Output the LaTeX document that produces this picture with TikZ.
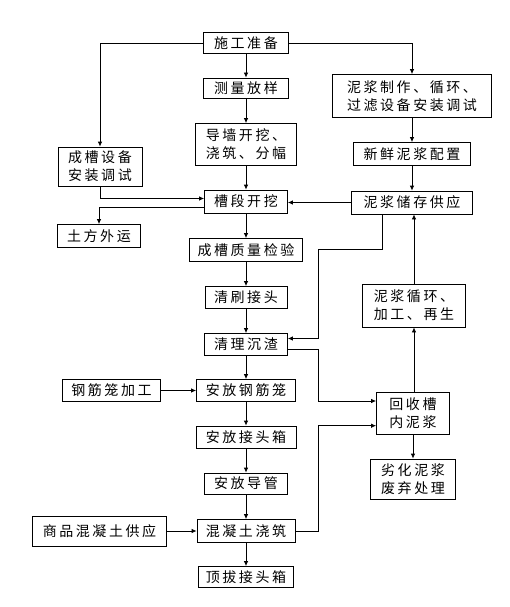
\documentclass[tikz,border=0pt]{standalone}
\usepackage{fontspec}
\newfontfamily\cjk[LetterSpace=18]{Noto Sans CJK SC}
\usetikzlibrary{arrows.meta}
\tikzset{
  box/.style={draw, line width=0.8pt, inner sep=0pt, align=center, font={\fontsize{14pt}{18pt}\cjk}},
  flow/.style={line width=0.8pt, -{Latex[length=5pt,width=4.5pt]}},
  link/.style={line width=0.8pt}
}
\newcommand{\procbox}[6]{\node[box, minimum width=#4pt, minimum height=#5pt] (#1) at ( #2 , #3 ) {#6};}

\begin{document}
\begin{tikzpicture}[x=1pt,y=-1pt]
                \useasboundingbox (0,0) rectangle (509,607);
                % main column
                \procbox{zhunbei}{246}{43}{85}{21}{施工准备}
                \procbox{celiang}{246}{88}{85}{20}{测量放样}
                \procbox{daoqiang}{246}{144.5}{101}{42}{导墙开挖、\\浇筑、分幅}
                \procbox{caoduan}{246}{201.5}{83}{23}{槽段开挖}
                \procbox{zhiliang}{246}{250}{113}{23}{成槽质量检验}
                \procbox{qingshua}{246}{297.5}{82}{22}{清刷接头}
                \procbox{qingli}{246}{344.5}{83}{22}{清理沉渣}
                \procbox{gangjin}{246}{390.5}{99}{22}{安放钢筋笼}
                \procbox{jietou}{246}{437}{100}{22}{安放接头箱}
                \procbox{daoguan}{246}{483.5}{83}{21}{安放导管}
                \procbox{jiaozhu}{246}{531}{98}{23}{混凝土浇筑}
                \procbox{dingba}{246}{577}{95}{21}{顶拔接头箱}
                % left column
                \procbox{chengcao}{100}{166.5}{84}{39}{成槽设备\\安装调试}
                \procbox{tufang}{99}{236}{83}{23}{土方外运}
                \procbox{gangjiagong}{111.5}{390.5}{98}{22}{钢筋笼加工}
                \procbox{shangpin}{99.5}{531}{134}{30}{商品混凝土供应}
                % right column
                \procbox{zhijiang}{412}{96}{159}{43}{泥浆制作、循环、\\过滤设备安装调试}
                \procbox{xinxian}{412}{154}{117}{23}{新鲜泥浆配置}
                \procbox{chucun}{412}{202.5}{121}{23}{泥浆储存供应}
                \procbox{xunhuan}{414}{305.5}{103}{43}{泥浆循环、\\加工、再生}
                \procbox{huishou}{413}{413}{73}{42}{回收槽\\内泥浆}
                \procbox{liehua}{413}{479}{85}{40}{劣化泥浆\\废弃处理}

                \coordinate (bendA) at (318.3,249.3);
                \coordinate (bendB) at (318.3,401);
                \coordinate (bendC) at (318.3,425.7);

                % main flow
                \draw[flow] (zhunbei) -- (celiang);
                \draw[flow] (celiang) -- (daoqiang);
                \draw[flow] (daoqiang) -- (caoduan);
                \draw[flow] (caoduan) -- (zhiliang);
                \draw[flow] (zhiliang) -- (qingshua);
                \draw[flow] (qingshua) -- (qingli);
                \draw[flow] (qingli) -- (gangjin);
                \draw[flow] (gangjin) -- (jietou);
                \draw[flow] (jietou) -- (daoguan);
                \draw[flow] (daoguan) -- (jiaozhu);
                \draw[flow] (jiaozhu) -- (dingba);

                % left side
                \draw[flow] (zhunbei.west) -| (chengcao.north);
                \draw[flow] (chengcao.south) |- ([yshift=3pt]caoduan.west);
                \draw[flow] ([yshift=-6pt]caoduan.west) -| (tufang.north);
                \draw[flow] (gangjiagong) -- (gangjin);
                \draw[flow] (shangpin) -- (jiaozhu);

                % slurry side
                \draw[flow] (zhunbei.east) -| (zhijiang.north);
                \draw[flow] (zhijiang) -- (xinxian);
                \draw[flow] (xinxian) -- (chucun);
                \draw[flow] (chucun.west) -- (chucun.west -| caoduan.east);
                \draw[flow] ([xshift=-30pt]chucun.south) |- (bendA) |- ([yshift=6pt]qingli.east);
                \draw[link] ([yshift=-5pt]qingli.east) -| (bendB);
                \draw[flow] (bendB) -- (bendB -| huishou.west);
                \draw[link] (jiaozhu.east) -| (bendC);
                \draw[flow] (bendC) -- (bendC -| huishou.west);
                \draw[flow] (huishou.north -| xunhuan.south) -- (xunhuan.south);
                \draw[flow] (xunhuan.north) -- (xunhuan.north |- chucun.south);
                \draw[flow] (huishou) -- (liehua);
\end{tikzpicture}
\end{document}
